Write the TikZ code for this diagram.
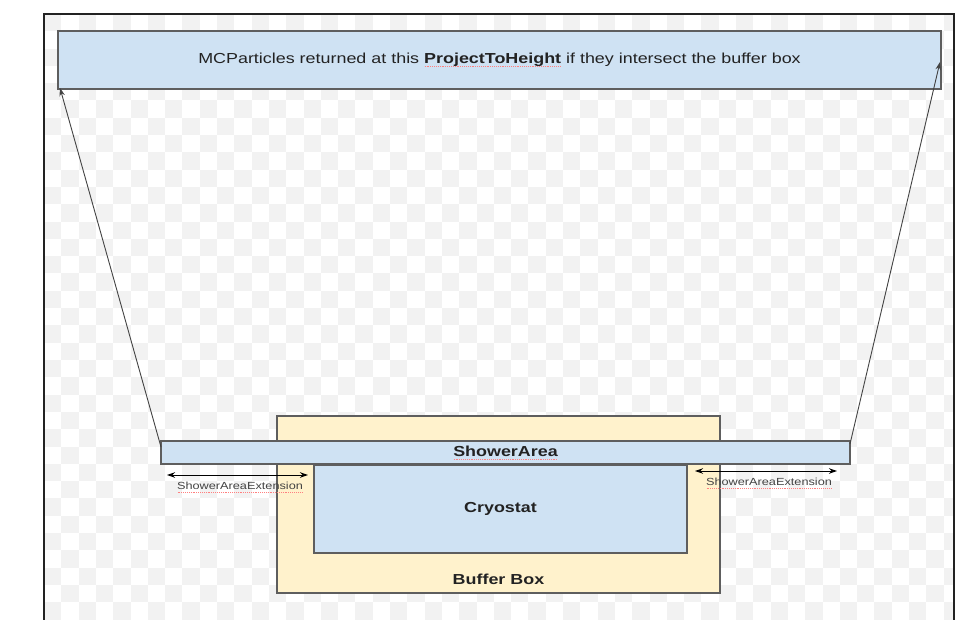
\documentclass[tikz,border=0pt]{standalone}
\usepackage{fontspec}
\setmainfont{Liberation Sans}
\usetikzlibrary{arrows.meta,calc}
\definecolor{boxblue}{HTML}{CFE2F3}
\definecolor{boxyellow}{HTML}{FFF2CC}
\definecolor{edgegray}{HTML}{5E5E5E}
\definecolor{ink}{HTML}{222222}
\definecolor{chk}{HTML}{F2F2F2}
\newcommand\hstr[1]{\scalebox{1.235}[1]{#1}}
\newcommand\spell[1]{\begingroup\setbox0\hbox{#1}\rlap{\textcolor{red!50}{\hbox to \wd0{\xleaders\hbox to 1.5pt{\hss\rule[-2.6pt]{0.75pt}{0.5pt}\hss}\hfill}}}\box0\endgroup}
\tikzset{
  panel/.style={draw=edgegray, line width=1.2pt, inner sep=0pt, rectangle},
  lbl/.style={inner sep=0pt, text=ink, font=\fontsize{14.5}{16}\selectfont},
  smalllbl/.style={inner sep=0pt, text=ink!85, font=\fontsize{10.3}{12}\selectfont},
  proj/.style={draw=ink!85, line width=0.9pt, -{Stealth[length=8pt,width=5.5pt]}},
  extarrow/.style={draw=black, line width=1pt, {Stealth[length=8pt,width=5.5pt]}-{Stealth[length=8pt,width=5.5pt]}}
}
\begin{document}
\begin{tikzpicture}[x=1pt,y=-1pt]
\fill[white] (0,0) rectangle (975,620);
\useasboundingbox (0,0) rectangle (975,620);
% checker background
\begin{scope}
\clip (44,14) rectangle (954,620);
\foreach \i in {0,...,52} {
  \foreach \j in {0,...,35} {
    \pgfmathtruncatemacro\parity{mod(\i+\j,2)}
    \ifnum\parity=0
      \fill[chk] ({44+\i*17.3},{14+\j*17.3}) rectangle +(17.3,17.3);
    \fi
  }
}
\end{scope}
% frame
\draw[line width=2pt, ink] (44,620) -- (44,14) -- (954,14) -- (954,620);

% boxes
\node[panel, fill=boxblue, minimum width=883pt, minimum height=58pt, lbl] (banner) at (499.5,60)
  {\hstr{MCParticles returned at this \textbf{\spell{ProjectToHeight}} if they intersect the buffer box}};
\node[panel, fill=boxyellow, minimum width=443pt, minimum height=177pt] (buffer) at (498.5,504.5) {};
\node[panel, fill=boxblue, minimum width=373pt, minimum height=88pt, lbl] (cryo) at (500.5,509)
  {\hstr{\textbf{Cryostat}}};
\node[panel, fill=boxblue, minimum width=689pt, minimum height=23pt, lbl] (shower) at (505.5,452.5)
  {\hstr{\textbf{\spell{ShowerArea}}}};
\node[lbl] (bufferlbl) at (498.5,579) {\hstr{\textbf{Buffer Box}}};

% projection connectors
\coordinate (ls) at (161,447);
\coordinate (lt) at (60,88);
\coordinate (rs) at (850,444);
\coordinate (rt) at (940,62);
\draw[proj] (ls) -- (lt);
\draw[proj] (rs) -- (rt);

% extension arrows
\coordinate (le1) at (167,475);
\coordinate (le2) at (308,475);
\coordinate (re1) at (695,471);
\coordinate (re2) at (837,471);
\draw[extarrow] (le1) -- (le2);
\draw[extarrow] (re1) -- (re2);
\node[smalllbl] (lext) at (240,487) {\hstr{\spell{ShowerAreaExtension}}};
\node[smalllbl] (rext) at (769,483) {\hstr{\spell{ShowerAreaExtension}}};
\end{tikzpicture}
\end{document}
